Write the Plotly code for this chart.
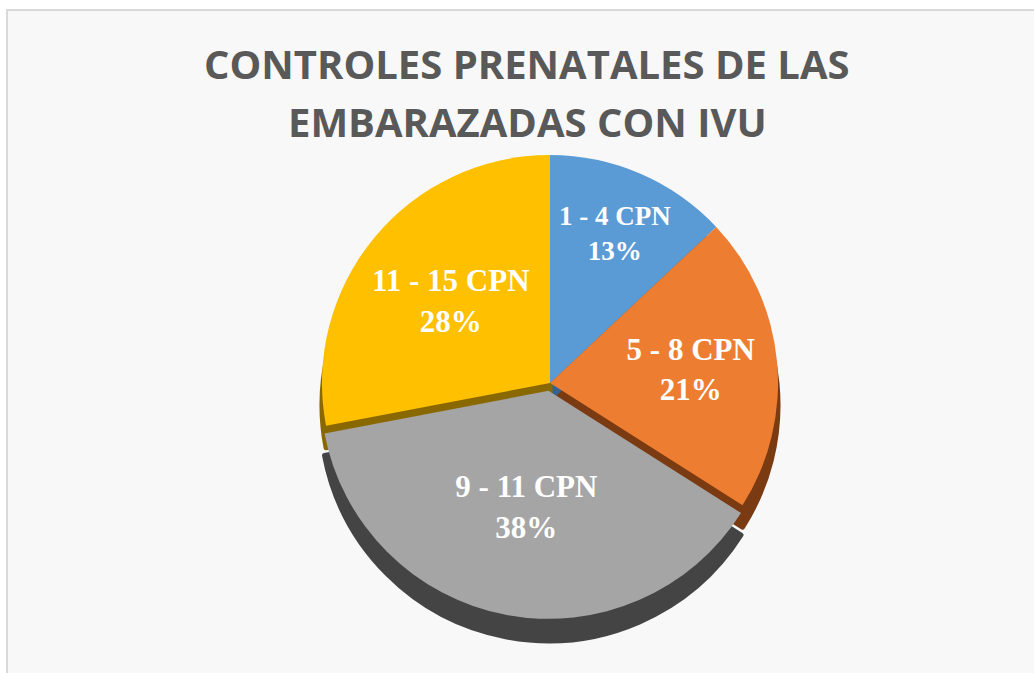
import plotly.graph_objects as go

categories = ["1 - 4 CPN", "5 - 8 CPN", "9 - 11 CPN", "11 - 15 CPN"]
values = [13, 21, 38, 28]
colors = ["#5B9BD5", "#ED7D31", "#A5A5A5", "#FFC000"]
side_colors = ["#35628c", "#7a3a12", "#444444", "#8a6800"]
pulls = [0, 0, 0.035, 0]
title_lines = ["CONTROLES PRENATALES DE LAS", "EMBARAZADAS CON IVU"]

W, H = 1034, 673

def px_x(x):
    return x / W

def px_y(y):
    return 1 - y / H

def dom(cx, cy, r):
    return dict(x=[px_x(cx - r), px_x(cx + r)],
                y=[px_y(cy + r), px_y(cy - r)])

fig = go.Figure()
# depth layer (3D side imitation)
fig.add_trace(go.Pie(
    labels=categories, values=values, sort=False, direction="clockwise",
    rotation=0, pull=pulls,
    marker=dict(colors=side_colors, line=dict(width=5, color=side_colors)),
    textinfo="none", hoverinfo="skip", showlegend=False,
    domain=dom(550, 405, 236),
))
# top face
fig.add_trace(go.Pie(
    labels=categories, values=values, sort=False, direction="clockwise",
    rotation=0, pull=pulls, marker=dict(colors=colors, line=dict(width=0)),
    texttemplate="<b>%{label}<br>%{percent:.0%}</b>", textposition="inside",
    insidetextorientation="horizontal",
    textfont=dict(family="Liberation Serif", size=31, color="white"),
    showlegend=False,
    domain=dom(550, 383, 236),
))

annotations = [
    dict(text=t, x=px_x(527), y=px_y(yy), xref="paper", yref="paper",
         xanchor="center", yanchor="middle", showarrow=False,
         font=dict(family="Open Sans", size=40, color="#595959", weight="bold"))
    for t, yy in zip(title_lines, [63, 121])
]

fig.update_layout(
    width=W, height=H,
    margin=dict(l=0, r=0, t=0, b=0),
    paper_bgcolor="#f8f8f8", plot_bgcolor="#f8f8f8",
    annotations=annotations,
    shapes=[dict(type="rect", xref="paper", yref="paper", layer="below",
                 x0=px_x(7), x1=1.05, y0=-0.05, y1=px_y(10),
                 fillcolor="#f8f8f8", line=dict(color="#d9d9d9", width=2)),
            dict(type="rect", xref="paper", yref="paper", layer="below",
                 x0=0, x1=px_x(6), y0=0, y1=1,
                 fillcolor="white", line=dict(width=0)),
            dict(type="rect", xref="paper", yref="paper", layer="below",
                 x0=0, x1=1, y0=px_y(9), y1=1,
                 fillcolor="white", line=dict(width=0))],
)

fig.write_html("out.html", config={"displayModeBar": False},
               post_script="document.body.style.margin='0px';document.body.style.overflow='hidden';")
